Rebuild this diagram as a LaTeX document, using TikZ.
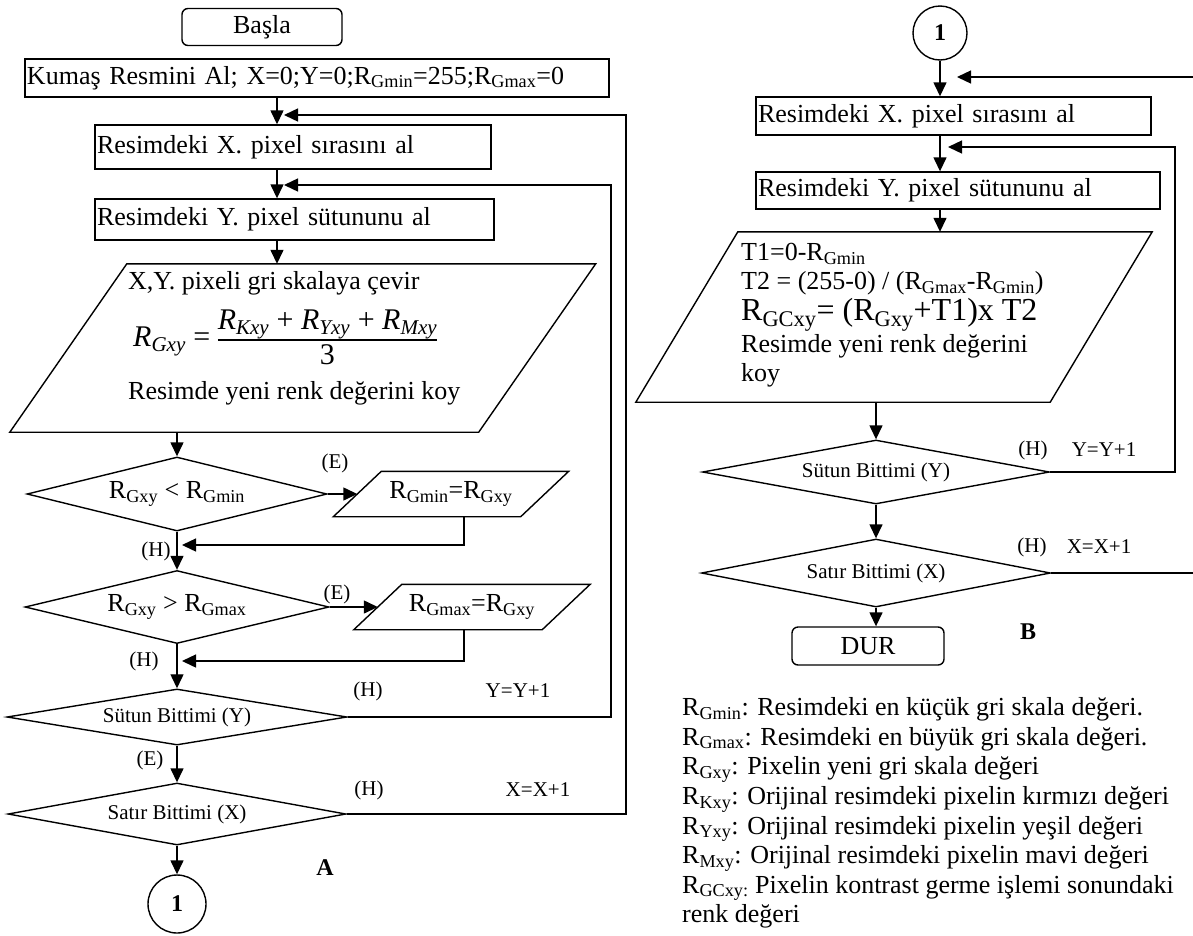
\documentclass[tikz,border=0pt]{standalone}
\usepackage{fontspec}
\setmainfont{Liberation Serif}
\usetikzlibrary{shapes.geometric,arrows.meta,positioning,calc}
\newcommand{\Rsub}[1]{R\textsubscript{#1}}
\newcommand{\fmain}{\fontsize{26}{30}\selectfont}
\newcommand{\fsmall}{\fontsize{21}{24}\selectfont}
\newcommand{\fform}{\fontsize{30}{34}\selectfont}

\begin{document}
\begin{tikzpicture}[x=1pt, y=-1pt,
  every node/.style={font=\fmain},
  box/.style={draw, line width=1.4pt, inner xsep=2pt, inner ysep=0pt, align=left},
  term/.style={draw, line width=1.4pt, rounded corners=6pt, inner sep=0pt},
  cond/.style={draw, diamond, aspect=4, inner sep=0pt, line width=1.4pt},
  holder/.style={inner sep=0pt},
  frame/.style={line width=1.4pt, line join=miter},
  conn/.style={draw, circle, line width=1.4pt, inner sep=0pt, font=\fontsize{24}{26}\selectfont\bfseries},
  arr/.style={-{Triangle[length=14pt,width=13pt]}, line width=1.4pt},
  wire/.style={line width=1.4pt},
  lbl/.style={font=\fsmall, inner sep=0pt},
  tag/.style={font=\fontsize{24}{26}\selectfont\bfseries, inner sep=0pt}]

\useasboundingbox (0,0) rectangle (1193,935);

% ---------------- A: gray scale + min/max ----------------
\node[term, minimum width=160pt, minimum height=37pt] (basla) at (262,27) {Başla};
\node[box, text width=580pt, minimum height=38pt] (kumas) at (317,78)
  {Kumaş Resmini Al; X=0;Y=0;\Rsub{Gmin}=255;\Rsub{Gmax}=0};
\coordinate (colA) at (277,0);
\node[box, text width=392pt, minimum height=44pt] (xbox) at (293,147) {Resimdeki X. pixel sırasını al};
\node[box, text width=395pt, minimum height=41pt] (ybox) at (294.5,219.5) {Resimdeki Y. pixel sütununu al};

% gray conversion (parallelogram)
\node[holder, minimum width=468.5pt, minimum height=168pt] (gray) at (302.75,348) {};
\draw[frame] ([xshift=58.5pt]gray.north west) -- ([xshift=58.5pt]gray.north east)
  -- ([xshift=-58.5pt]gray.south east) -- ([xshift=-58.5pt]gray.south west) -- cycle;
\node[anchor=west, inner sep=0pt] (grayA) at (128,283) {X,Y. pixeli gri skalaya çevir};
\node[anchor=west, inner sep=0pt, font=\fform] (grayF) at (133,340)
  {\setlength{\arrayrulewidth}{1.2pt}{\itshape R\textsubscript{Gxy}} = \begin{tabular}{@{}c@{}}
   {\itshape R\textsubscript{Kxy}} + {\itshape R\textsubscript{Yxy}} + {\itshape R\textsubscript{Mxy}}\\ \hline 3\end{tabular}};
\node[anchor=west, inner sep=0pt] (grayB) at (128,393) {Resimde yeni renk değerini koy};

% min / max tests
\node[cond, minimum width=300pt, minimum height=74pt] (dmin) at (177,494) {\Rsub{Gxy} < \Rsub{Gmin}};
\node[holder, minimum width=187pt, minimum height=45pt] (pmin) at (451,494) {\Rsub{Gmin}=\Rsub{Gxy}};
\draw[frame] ([xshift=24pt]pmin.north west) -- ([xshift=24pt]pmin.north east)
  -- ([xshift=-24pt]pmin.south east) -- ([xshift=-24pt]pmin.south west) -- cycle;
\node[cond, minimum width=304pt, minimum height=73pt] (dmax) at (177,607) {\Rsub{Gxy} > \Rsub{Gmax}};
\node[holder, minimum width=188pt, minimum height=45pt] (pmax) at (472,607) {\Rsub{Gmax}=\Rsub{Gxy}};
\draw[frame] ([xshift=24pt]pmax.north west) -- ([xshift=24pt]pmax.north east)
  -- ([xshift=-24pt]pmax.south east) -- ([xshift=-24pt]pmax.south west) -- cycle;

% loop ends
\node[cond, font=\fsmall, minimum width=340pt, minimum height=56pt] (sutun) at (177,717) {Sütun Bittimi (Y)};
\node[cond, font=\fsmall, minimum width=338pt, minimum height=62pt] (satir) at (177,814) {Satır Bittimi (X)};
\node[conn, minimum size=58pt] (jumpA) at (177,904) {1};

% connectors
\draw[arr] (kumas.south -| colA) -- (xbox.north -| colA);
\draw[arr] (xbox.south -| colA) -- (ybox.north -| colA);
\draw[arr] (ybox.south -| colA) -- (gray.north -| colA);
\draw[arr] (gray.south -| dmin) -- (dmin.north);
\draw[arr] (dmin.east) -- (pmin.west);
\draw[arr] (dmin.south) -- (dmax.north);
\coordinate (minJoin) at (182,545);
\draw[arr] ([xshift=13pt]pmin.south) |- (minJoin);
\draw[arr] (dmax.east) -- (pmax.west);
\coordinate (maxJoin) at (182,661);
\draw[arr] ([xshift=-8pt]pmax.south) |- (maxJoin);
\draw[arr] (dmax.south) -- (sutun.north);
\draw[arr] (sutun.south) -- (satir.north);
\draw[arr] (satir.south) -- (jumpA.north);

% loop-backs
\coordinate (yRailA) at (611,185);
\coordinate (yTipA) at (284,185);
\draw[arr] (sutun.east) -| (yRailA) -- (yTipA);
\coordinate (xRailA) at (626,115);
\coordinate (xTipA) at (284,115);
\draw[arr] (satir.east) -| (xRailA) -- (xTipA);

% branch labels
\node[lbl] (eMin) at (335,463) {(E)};
\node[lbl] (hMin) at (156,551) {(H)};
\node[lbl] (eMax) at (337,594) {(E)};
\node[lbl] (hMax) at (144,661) {(H)};
\node[lbl] (hY) at (368,691) {(H)};
\node[lbl] (incY) at (518,691) {Y=Y+1};
\node[lbl] (eY) at (150,760) {(E)};
\node[lbl] (hX) at (369,790) {(H)};
\node[lbl] (incX) at (538,790) {X=X+1};
\node[tag] (partA) at (325,868) {A};

% ---------------- B: contrast stretch ----------------
\coordinate (colB) at (940,0);
\node[conn, minimum size=54pt] (jumpB) at (940,33) {1};
\node[box, text width=391pt, minimum height=38pt] (xboxR) at (953.5,116) {Resimdeki X. pixel sırasını al};
\node[box, text width=400pt, minimum height=37pt] (yboxR) at (958,190.5) {Resimdeki Y. pixel sütununu al};
\node[holder, minimum width=414pt, minimum height=170pt] (stretch) at (894,317) {};
\draw[frame] ([xshift=51pt]stretch.north west) -- ([xshift=51pt]stretch.north east)
  -- ([xshift=-51pt]stretch.south east) -- ([xshift=-51pt]stretch.south west) -- cycle;
\node[anchor=west, inner sep=0pt, align=left, font=\fontsize{26}{29}\selectfont] (stretchTxt) at (741,315)
  {T1=0-\Rsub{Gmin}\\ T2 = (255-0) / (\Rsub{Gmax}-\Rsub{Gmin})\\[2pt]
   {\fontsize{32}{36}\selectfont \Rsub{GCxy}= (\Rsub{Gxy}+T1)x T2}\\[2pt]
   Resimde yeni renk değerini\\ koy};
\node[cond, font=\fsmall, minimum width=347pt, minimum height=64pt] (sutunR) at (876,472) {Sütun Bittimi (Y)};
\node[cond, font=\fsmall, minimum width=349pt, minimum height=68pt] (satirR) at (876,573) {Satır Bittimi (X)};
\node[term, minimum width=152pt, minimum height=38pt] (dur) at (868,646) {DUR};

% connectors
\draw[arr] (jumpB.south) -- (xboxR.north -| colB);
\draw[arr] (xboxR.south -| colB) -- (yboxR.north -| colB);
\draw[arr] (yboxR.south -| colB) -- (stretch.north -| colB);
\draw[arr] (stretch.south -| sutunR) -- (sutunR.north);
\draw[arr] (sutunR.south) -- (satirR.north);
\draw[arr] (satirR.south) -- (satirR.south |- dur.north);

% loop-backs
\coordinate (yRailB) at (1175,147);
\coordinate (yTipB) at (948,147);
\draw[arr] (sutunR.east) -| (yRailB) -- (yTipB);
\coordinate (xOutB) at (1193,573);
\coordinate (xInB) at (1193,77);
\coordinate (xTipB) at (957,77);
\draw[wire] (satirR.east) -- (xOutB);
\draw[arr] (xInB) -- (xTipB);

% branch labels
\node[lbl] (hYR) at (1033,450) {(H)};
\node[lbl] (incYR) at (1104,450) {Y=Y+1};
\node[lbl] (hXR) at (1032,547) {(H)};
\node[lbl] (incXR) at (1099,547) {X=X+1};
\node[tag] (partB) at (1028,632) {B};

% legend
\node[anchor=west, inner sep=0pt, align=left, font=\fontsize{26}{29.6}\selectfont] (legend) at (682,813)
  {\Rsub{Gmin}: Resimdeki en küçük gri skala değeri.\\
   \Rsub{Gmax}: Resimdeki en büyük gri skala değeri.\\
   \Rsub{Gxy}: Pixelin yeni gri skala değeri\\
   \Rsub{Kxy}: Orijinal resimdeki pixelin kırmızı değeri\\
   \Rsub{Yxy}: Orijinal resimdeki pixelin yeşil değeri\\
   \Rsub{Mxy}: Orijinal resimdeki pixelin mavi değeri\\
   R\textsubscript{GCxy:} Pixelin kontrast germe işlemi sonundaki\\
   renk değeri};
\end{tikzpicture}
\end{document}
